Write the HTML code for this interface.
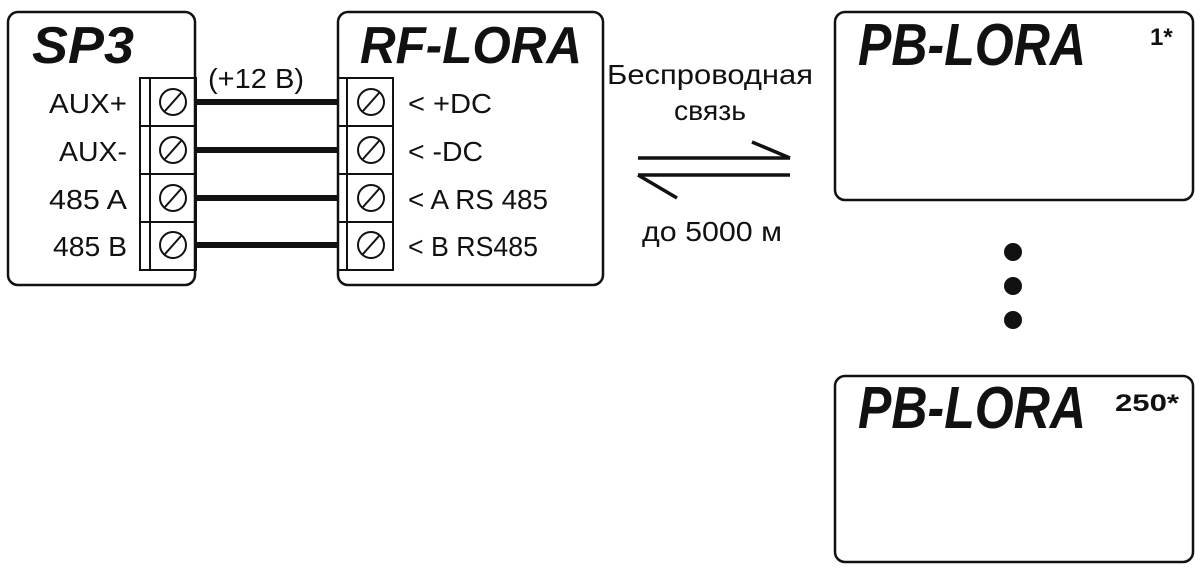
<!DOCTYPE html>
<html><head><meta charset="utf-8"><style>
html,body{margin:0;padding:0;background:#fff;}
svg{display:block;}
text{font-family:"Liberation Sans",sans-serif;fill:#111;}
.t{font-weight:bold;font-style:italic;}
.l{font-size:28px;}
</style></head><body>
<svg width="1200" height="572" viewBox="0 0 1200 572" xmlns="http://www.w3.org/2000/svg">
<g fill="none" stroke="#111" stroke-width="2.5">
<rect x="8" y="12" width="187" height="273" rx="10"/>
<rect x="338" y="12" width="265" height="273" rx="10"/>
<rect x="835" y="12" width="358" height="188" rx="10"/>
<rect x="835" y="376" width="358" height="186" rx="10"/>
</g>
<g fill="none" stroke="#111" stroke-width="2">
<rect x="140" y="78" width="56" height="192"/>
<line x1="150" y1="78" x2="150" y2="270"/>
<line x1="140" y1="126" x2="196" y2="126"/>
<line x1="140" y1="174" x2="196" y2="174"/>
<line x1="140" y1="222" x2="196" y2="222"/>
<rect x="338" y="78" width="55" height="192"/>
<line x1="347" y1="78" x2="347" y2="270"/>
<line x1="338" y1="126" x2="393" y2="126"/>
<line x1="338" y1="174" x2="393" y2="174"/>
<line x1="338" y1="222" x2="393" y2="222"/>
<circle cx="173" cy="102" r="13"/><line x1="165" y1="111" x2="181" y2="93"/>
<circle cx="173" cy="150" r="13"/><line x1="165" y1="159" x2="181" y2="141"/>
<circle cx="173" cy="198" r="13"/><line x1="165" y1="207" x2="181" y2="189"/>
<circle cx="173" cy="245" r="13"/><line x1="165" y1="254" x2="181" y2="236"/>
<circle cx="371" cy="102" r="13"/><line x1="363" y1="111" x2="379" y2="93"/>
<circle cx="371" cy="150" r="13"/><line x1="363" y1="159" x2="379" y2="141"/>
<circle cx="371" cy="198" r="13"/><line x1="363" y1="207" x2="379" y2="189"/>
<circle cx="371" cy="245" r="13"/><line x1="363" y1="254" x2="379" y2="236"/>
</g>
<g stroke="#111" stroke-width="6">
<line x1="196" y1="102" x2="338" y2="102"/>
<line x1="196" y1="150" x2="338" y2="150"/>
<line x1="196" y1="198" x2="338" y2="198"/>
<line x1="196" y1="245" x2="338" y2="245"/>
</g>
<g stroke="#111" stroke-width="3.5" fill="none">
<line x1="638" y1="158" x2="790" y2="158"/>
<line x1="752" y1="142" x2="790" y2="158"/>
<line x1="638" y1="175" x2="790" y2="175"/>
<line x1="638" y1="175" x2="677" y2="198"/>
</g>
<g fill="#111">
<circle cx="1013" cy="252" r="9"/>
<circle cx="1013" cy="286" r="9"/>
<circle cx="1013" cy="320" r="9"/>
</g>
<text class="t" x="32" y="63" font-size="52" textLength="102" lengthAdjust="spacingAndGlyphs">SP3</text>
<text class="t" x="360" y="63" font-size="52" textLength="222" lengthAdjust="spacingAndGlyphs">RF-LORA</text>
<text class="t" x="858" y="65" font-size="59" textLength="228" lengthAdjust="spacingAndGlyphs">PB-LORA</text>
<text class="t" x="858" y="428" font-size="59" textLength="228" lengthAdjust="spacingAndGlyphs">PB-LORA</text>
<text x="1150" y="45" font-size="24" font-weight="bold">1*</text>
<text x="1115" y="411" font-size="24" font-weight="bold" textLength="64" lengthAdjust="spacingAndGlyphs">250*</text>
<text class="l" x="127" y="113" text-anchor="end" textLength="78" lengthAdjust="spacingAndGlyphs">AUX+</text>
<text class="l" x="127" y="161" text-anchor="end" textLength="68" lengthAdjust="spacingAndGlyphs">AUX-</text>
<text class="l" x="127" y="209" text-anchor="end" textLength="78" lengthAdjust="spacingAndGlyphs">485 A</text>
<text class="l" x="127" y="256" text-anchor="end" textLength="74" lengthAdjust="spacingAndGlyphs">485 B</text>
<text class="l" x="208" y="88" textLength="96" lengthAdjust="spacingAndGlyphs">(+12 В)</text>
<text class="l" x="408" y="113" textLength="84" lengthAdjust="spacingAndGlyphs">&lt; +DC</text>
<text class="l" x="408" y="161" textLength="75" lengthAdjust="spacingAndGlyphs">&lt; -DC</text>
<text class="l" x="408" y="209" textLength="140" lengthAdjust="spacingAndGlyphs">&lt; A RS 485</text>
<text class="l" x="408" y="256" textLength="130" lengthAdjust="spacingAndGlyphs">&lt; B RS485</text>
<text class="l" x="710" y="84" text-anchor="middle" textLength="206" lengthAdjust="spacingAndGlyphs">Беспроводная</text>
<text class="l" x="710" y="120" text-anchor="middle" textLength="72" lengthAdjust="spacingAndGlyphs">связь</text>
<text class="l" x="712" y="241" text-anchor="middle" textLength="140" lengthAdjust="spacingAndGlyphs">до 5000 м</text>
</svg>
</body></html>
